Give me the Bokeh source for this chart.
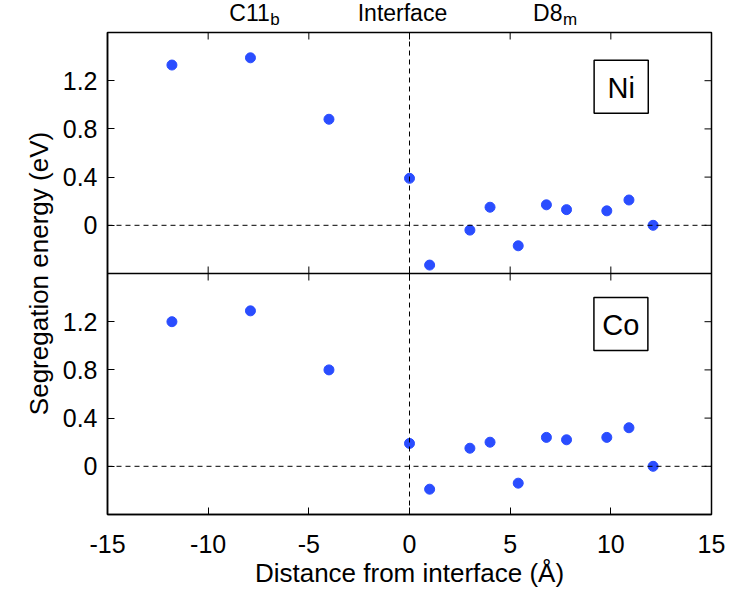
from bokeh.plotting import figure
from bokeh.models import (Range1d, LinearAxis, FixedTicker, CustomJSTickFormatter,
                          Span, BoxAnnotation, Label)
from bokeh.layouts import column
from bokeh.core.properties import value
from bokeh.embed import file_html
from bokeh.resources import INLINE

# ---------------- data ----------------
distance = [-11.8, -7.9, -4.0, 0.0, 1.0, 3.0, 4.0, 5.4, 6.8, 7.8, 9.8, 10.9, 12.1]
ni_energy = [1.33, 1.39, 0.88, 0.39, -0.33, -0.04, 0.15, -0.17, 0.17, 0.13, 0.12, 0.21, 0.0]
co_energy = [1.20, 1.29, 0.80, 0.19, -0.19, 0.15, 0.20, -0.14, 0.24, 0.22, 0.24, 0.32, 0.0]
x_ticks = [-15, -10, -5, 0, 5, 10, 15]
y_ticks = [0, 0.4, 0.8, 1.2]
panel_labels = ["Ni", "Co"]
top_labels = ["C11", "Interface", "D8"]
top_subs = ["b", "m"]

FONT = "Liberation Sans"
DOT = "#2a4dff"

PANEL_LO, PANEL_HI = -0.4, 1.6
SPAN = PANEL_HI - PANEL_LO

W = 731
BL, BR = 107, 20
FW = W - BL - BR
TOP_H = 30
BT, FH, BB = 2, 482, 78
px_per_unit = FH / (2 * SPAN)

xr = Range1d(-15, 15)

# ---------- header strip with the region labels ----------
top = figure(frame_width=FW, frame_height=TOP_H, output_backend="svg", toolbar_location=None,
             title_location=None,
             x_range=xr, y_range=Range1d(0, TOP_H),
             min_border_left=BL, min_border_right=BR, min_border_top=0, min_border_bottom=0,
             x_axis_location=None, y_axis_location=None)
top.xgrid.visible = False
top.ygrid.visible = False
top.outline_line_color = None
top.background_fill_color = "white"
top.border_fill_color = "white"

txt = dict(text_font=value(FONT), text_baseline="middle", text_color="black")
top.text(x=[-8.95, 6.14], y=[18, 18], text=[top_labels[0], top_labels[2]],
         text_font_size="23px", text_align="left", **txt)
top.text(x=[-0.35], y=[18], text=[top_labels[1]],
         text_font_size="23px", text_align="center", **txt)
top.text(x=[-8.95], y=[11], text=[top_subs[0]], x_offset=41,
         text_font_size="17px", text_align="left", **txt)
top.text(x=[6.14], y=[11], text=[top_subs[1]], x_offset=30,
         text_font_size="17px", text_align="left", **txt)

# ---------- main two-panel plot ----------
p = figure(frame_width=FW, frame_height=FH, output_backend="svg", toolbar_location=None,
           title_location=None,
           x_range=xr,
           y_range=Range1d(PANEL_LO, PANEL_LO + 2 * SPAN),
           min_border_left=BL, min_border_right=BR,
           min_border_top=BT, min_border_bottom=BB,
           x_axis_location=None, y_axis_location=None)
p.extra_y_ranges = {"ni": Range1d(PANEL_LO - SPAN, PANEL_HI)}
p.xgrid.visible = False
p.ygrid.visible = False
p.outline_line_color = "black"
p.outline_line_width = 1.5
p.background_fill_color = "white"
p.border_fill_color = "white"

all_y_ticks = list(y_ticks) + [t + SPAN for t in y_ticks]
yfmt = CustomJSTickFormatter(code="""
const v = tick >= %f ? tick - %f : tick;
const r = Math.round(v * 10) / 10;
return r === 0 ? "0" : r.toString();
""" % (PANEL_HI - 0.01, SPAN))
xfmt = CustomJSTickFormatter(code="return String(Math.round(tick));")


def style(ax):
    ax.major_tick_in = 7
    ax.major_tick_out = 0
    ax.minor_tick_line_color = None
    ax.major_tick_line_color = "black"
    ax.major_tick_line_width = 1
    ax.axis_line_color = "black"
    ax.axis_line_width = 1.5
    ax.major_label_text_font = FONT
    ax.major_label_text_font_size = "25px"
    ax.major_label_text_color = "black"
    ax.axis_label_text_font = FONT
    ax.axis_label_text_font_size = "26px"
    ax.axis_label_text_font_style = "normal"
    ax.axis_label_text_color = "black"


xb = LinearAxis(ticker=FixedTicker(ticks=x_ticks), formatter=xfmt,
                axis_label="Distance from interface (Å)")
style(xb)
xb.major_label_standoff = 20
xb.axis_label_standoff = 2
p.add_layout(xb, "below")

yl = LinearAxis(ticker=FixedTicker(ticks=all_y_ticks), formatter=yfmt,
                axis_label="Segregation energy (eV)")
style(yl)
yl.major_label_standoff = 10
yl.axis_label_standoff = 6
p.add_layout(yl, "left")

# divider between panels, plus inward ticks on the top and right edges
p.add_layout(Span(location=PANEL_HI, dimension="width", line_color="black", line_width=1.5))
tl_y = 7 / px_per_unit
tl_x = 7 * 30 / FW
inner = x_ticks[1:-1]
n = len(inner)
top_edge = PANEL_LO + 2 * SPAN
p.segment(x0=inner, x1=inner, y0=[PANEL_HI - tl_y] * n, y1=[PANEL_HI + tl_y] * n,
          line_color="black", line_width=1)
p.segment(x0=inner, x1=inner, y0=[top_edge - tl_y] * n, y1=[top_edge] * n,
          line_color="black", line_width=1)
m = len(all_y_ticks)
p.segment(x0=[15 - tl_x] * m, x1=[15] * m, y0=all_y_ticks, y1=all_y_ticks,
          line_color="black", line_width=1)

# dashed reference lines
dash = "5 4"
p.add_layout(Span(location=0, dimension="height", line_color="black", line_width=1, line_dash=dash))
p.add_layout(Span(location=0, dimension="width", line_color="black", line_width=1, line_dash=dash))
p.add_layout(Span(location=0, dimension="width", line_color="black", line_width=1, line_dash=dash,
                  y_range_name="ni"))

# data
p.scatter(distance, ni_energy, size=10, color=DOT, y_range_name="ni")
p.scatter(distance, co_energy, size=10, color=DOT)

# panel labels in boxes
for name, rng, (bx0, bx1, by0, by1) in [
        (panel_labels[0], "ni", (9.17, 11.86, 0.93, 1.37)),
        (panel_labels[1], "default", (9.16, 11.84, 0.96, 1.40))]:
    p.add_layout(BoxAnnotation(left=bx0, right=bx1, bottom=by0, top=by1, y_range_name=rng,
                               fill_color="white", fill_alpha=1.0,
                               line_color="black", line_alpha=1.0, line_width=1.5))
    p.add_layout(Label(x=(bx0 + bx1) / 2, y=(by0 + by1) / 2, y_range_name=rng, text=name,
                       text_align="center", text_baseline="middle", y_offset=-1,
                       text_font=FONT, text_font_size="29px", text_color="black"))

layout = column(top, p, spacing=0)
open("out.html", "w").write(file_html(layout, INLINE))
